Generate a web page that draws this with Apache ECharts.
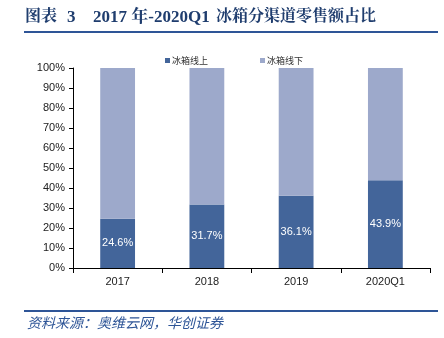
<!DOCTYPE html>
<html><head><meta charset="utf-8">
<script src="https://cdn.jsdelivr.net/npm/echarts@6/dist/echarts.min.js"></script>
<style>html,body{margin:0;padding:0;background:#fff;}#c{width:444px;height:338px;}</style>
</head><body><div id="c"></div>
<script>
const categories = ['2017', '2018', '2019', '2020Q1'];
const online = [24.6, 31.7, 36.1, 43.9];
const offline = [75.4, 68.3, 63.9, 56.1];
const yTicks = [0, 10, 20, 30, 40, 50, 60, 70, 80, 90, 100];

const titleFont = 'bold 16px "Liberation Serif", "Noto Serif CJK SC", "Noto Sans CJK SC", serif';
const titleFontL = 'bold 17px "Liberation Serif", "Noto Serif CJK SC", "Noto Sans CJK SC", serif';
const chart = echarts.init(document.getElementById('c'));
chart.setOption({
  animation: false,
  graphic: [
    {type: 'text', left: 25, top: 9, style: {text: '图表', font: titleFont, fill: '#1F3D6E'}},
    {type: 'text', left: 67, top: 9, style: {text: '3', font: titleFontL, fill: '#1F3D6E'}},
    {type: 'text', left: 93, top: 9, style: {text: '2017 年-2020Q1', font: titleFontL, fill: '#1F3D6E'}},
    {type: 'text', left: 216, top: 9, style: {text: '冰箱分渠道零售额占比', font: titleFont, fill: '#1F3D6E'}},
    {type: 'rect', shape: {x: 24, y: 31, width: 414, height: 2}, style: {fill: '#2E5597'}},
    {type: 'rect', shape: {x: 24, y: 310, width: 414, height: 2}, style: {fill: '#2E5597'}},
    {type: 'text', left: 27, top: 316, style: {text: '资料来源：奥维云网，华创证券', font: 'italic 14px "Noto Sans CJK SC", sans-serif', fill: '#2E5597'}}
  ],
  legend: {
    top: 51, left: 160, itemGap: 52, itemWidth: 5, itemHeight: 5, icon: 'rect',
    textStyle: {fontSize: 9, color: '#333', fontFamily: '"Noto Sans CJK SC", sans-serif', padding: [0, 0, 0, -3]},
    data: ['冰箱线上', '冰箱线下']
  },
  grid: {left: 73, right: 14, top: 68, bottom: 70},
  xAxis: {
    type: 'category', data: categories,
    axisLine: {lineStyle: {color: '#000', width: 1}},
    axisTick: {show: true, length: 5, inside: false, lineStyle: {color: '#000'}},
    axisLabel: {fontSize: 11, color: '#222', fontFamily: 'Arial, "Liberation Sans", sans-serif', margin: 8}
  },
  yAxis: {
    type: 'value', min: 0, max: 100, interval: 10,
    axisLine: {show: true, lineStyle: {color: '#000'}},
    axisTick: {show: true, length: 4, lineStyle: {color: '#000'}},
    splitLine: {show: false},
    axisLabel: {fontSize: 11, color: '#222', fontFamily: 'Arial, "Liberation Sans", sans-serif', formatter: v => yTicks.includes(v) ? v + '%' : '', margin: 8}
  },
  series: [
    {name: '冰箱线上', type: 'bar', stack: 's', data: online, barWidth: '39%',
     itemStyle: {color: '#43659A'},
     label: {show: true, position: 'inside', color: '#fff', fontSize: 11, fontFamily: 'Arial, "Liberation Sans", sans-serif', formatter: p => p.value.toFixed(1) + '%'}},
    {name: '冰箱线下', type: 'bar', stack: 's', data: offline, barWidth: '39%',
     itemStyle: {color: '#9DA9CB'}}
  ]
});
</script></body></html>
